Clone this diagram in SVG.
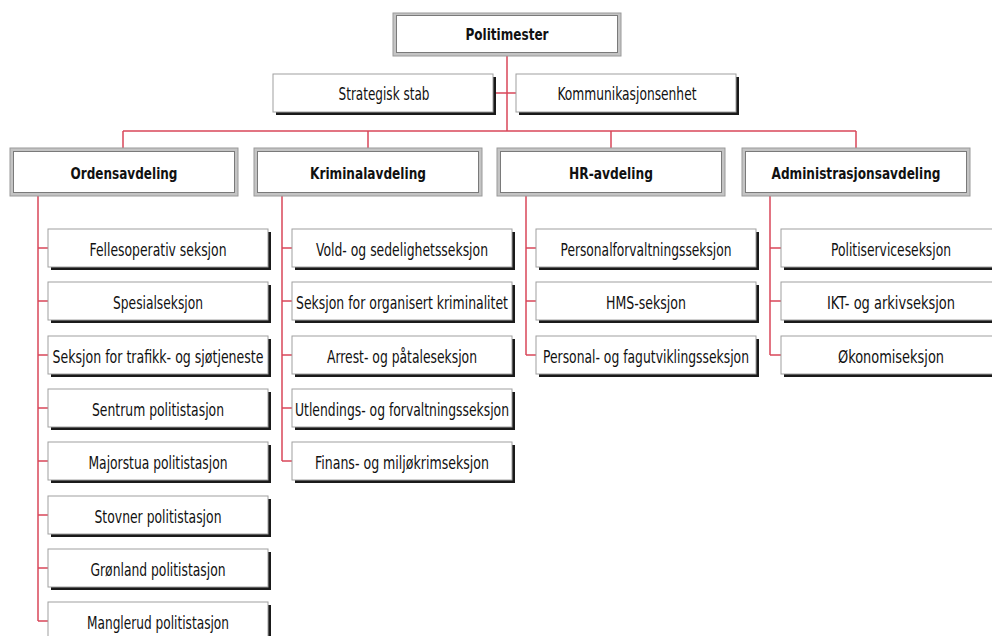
<svg xmlns="http://www.w3.org/2000/svg" width="992" height="636" viewBox="0 0 992 636">
<style>
.bg{fill:#ffffff}
.conn{stroke:#d9475a;stroke-width:1.5;fill:none}
.frame{fill:#c4c4c4;stroke:#9a9a9a;stroke-width:1}
.inner{fill:#ffffff;stroke:#7a7a7a;stroke-width:1}
.box{fill:#ffffff;stroke:#a0a0a0;stroke-width:1}
.shadow{fill:#1a1a1a}
text{font-family:"DejaVu Sans Condensed","DejaVu Sans","Liberation Sans",sans-serif;font-size:18px;fill:#111;text-anchor:middle}
.b{font-weight:bold;font-size:16.5px}
</style>
<defs>
<g id="child">
<rect class="shadow" x="3" y="3" width="220" height="38"/>
<rect class="box" x="0" y="0" width="220" height="38"/>
</g>
<g id="dept">
<rect class="frame" x="0" y="0" width="228" height="48"/>
<rect class="inner" x="3.5" y="3.5" width="221" height="41"/>
</g>
</defs>
<rect class="bg" x="0" y="0" width="992" height="636"/>

<g id="connectors">
<path class="conn" d="M507,56V131M494,93H516M123,131H856M123,131V148M368,131V148M611,131V148M856,131V148"/>
<path class="conn" d="M38,196V621M38,248H48M38,301H48M38,355H48M38,408H48M38,461H48M38,515H48M38,568H48M38,621H48"/>
<path class="conn" d="M282,196V461M282,248H292M282,301H292M282,355H292M282,408H292M282,461H292"/>
<path class="conn" d="M526,196V355M526,248H536M526,301H536M526,355H536"/>
<path class="conn" d="M770,196V355M770,248H781M770,301H781M770,355H781"/>
</g>

<g id="politimester">
<rect class="frame" x="393" y="13" width="228" height="43"/>
<rect class="inner" x="396.5" y="15.5" width="221" height="37"/>
<text class="b" x="507" y="40" textLength="83" lengthAdjust="spacingAndGlyphs">Politimester</text>
</g>
<g id="strategisk"><use href="#child" x="273" y="74"/><text x="384" y="100" textLength="91" lengthAdjust="spacingAndGlyphs">Strategisk stab</text></g>
<g id="kommunikasjon"><use href="#child" x="516" y="74"/><text x="627" y="100" textLength="139" lengthAdjust="spacingAndGlyphs">Kommunikasjonsenhet</text></g>

<g id="ordensavdeling"><use href="#dept" x="10" y="148"/><text class="b" x="124" y="179" textLength="107" lengthAdjust="spacingAndGlyphs">Ordensavdeling</text></g>
<g id="kriminalavdeling"><use href="#dept" x="254" y="148"/><text class="b" x="368" y="179" textLength="116" lengthAdjust="spacingAndGlyphs">Kriminalavdeling</text></g>
<g id="hravdeling"><use href="#dept" x="497" y="148"/><text class="b" x="611" y="179" textLength="84" lengthAdjust="spacingAndGlyphs">HR-avdeling</text></g>
<g id="administrasjonsavdeling"><use href="#dept" x="742" y="148"/><text class="b" x="856" y="179" textLength="169" lengthAdjust="spacingAndGlyphs">Administrasjonsavdeling</text></g>

<g id="o1"><use href="#child" x="48" y="229"/><text x="158" y="256" textLength="137" lengthAdjust="spacingAndGlyphs">Fellesoperativ seksjon</text></g>
<g id="o2"><use href="#child" x="48" y="282"/><text x="158" y="309" textLength="90" lengthAdjust="spacingAndGlyphs">Spesialseksjon</text></g>
<g id="o3"><use href="#child" x="48" y="336"/><text x="158" y="363" textLength="211" lengthAdjust="spacingAndGlyphs">Seksjon for trafikk- og sjøtjeneste</text></g>
<g id="o4"><use href="#child" x="48" y="389"/><text x="158" y="416" textLength="132" lengthAdjust="spacingAndGlyphs">Sentrum politistasjon</text></g>
<g id="o5"><use href="#child" x="48" y="442"/><text x="158" y="469" textLength="139" lengthAdjust="spacingAndGlyphs">Majorstua politistasjon</text></g>
<g id="o6"><use href="#child" x="48" y="496"/><text x="158" y="523" textLength="127" lengthAdjust="spacingAndGlyphs">Stovner politistasjon</text></g>
<g id="o7"><use href="#child" x="48" y="549"/><text x="158" y="576" textLength="135" lengthAdjust="spacingAndGlyphs">Grønland politistasjon</text></g>
<g id="o8"><use href="#child" x="48" y="602"/><text x="158" y="629" textLength="142" lengthAdjust="spacingAndGlyphs">Manglerud politistasjon</text></g>

<g id="k1"><use href="#child" x="292" y="229"/><text x="402" y="256" textLength="172" lengthAdjust="spacingAndGlyphs">Vold- og sedelighetsseksjon</text></g>
<g id="k2"><use href="#child" x="292" y="282"/><text x="402" y="309" textLength="212" lengthAdjust="spacingAndGlyphs">Seksjon for organisert kriminalitet</text></g>
<g id="k3"><use href="#child" x="292" y="336"/><text x="402" y="363" textLength="150" lengthAdjust="spacingAndGlyphs">Arrest- og påtaleseksjon</text></g>
<g id="k4"><use href="#child" x="292" y="389"/><text x="402" y="416" textLength="214" lengthAdjust="spacingAndGlyphs">Utlendings- og forvaltningsseksjon</text></g>
<g id="k5"><use href="#child" x="292" y="442"/><text x="402" y="469" textLength="174" lengthAdjust="spacingAndGlyphs">Finans- og miljøkrimseksjon</text></g>

<g id="h1"><use href="#child" x="536" y="229"/><text x="646" y="256" textLength="171" lengthAdjust="spacingAndGlyphs">Personalforvaltningsseksjon</text></g>
<g id="h2"><use href="#child" x="536" y="282"/><text x="646" y="309" textLength="80" lengthAdjust="spacingAndGlyphs">HMS-seksjon</text></g>
<g id="h3"><use href="#child" x="536" y="336"/><text x="646" y="363" textLength="206" lengthAdjust="spacingAndGlyphs">Personal- og fagutviklingsseksjon</text></g>

<g id="a1"><use href="#child" x="781" y="229"/><text x="891" y="256" textLength="120" lengthAdjust="spacingAndGlyphs">Politiserviceseksjon</text></g>
<g id="a2"><use href="#child" x="781" y="282"/><text x="891" y="309" textLength="128" lengthAdjust="spacingAndGlyphs">IKT- og arkivseksjon</text></g>
<g id="a3"><use href="#child" x="781" y="336"/><text x="891" y="363" textLength="106" lengthAdjust="spacingAndGlyphs">Økonomiseksjon</text></g>
</svg>
